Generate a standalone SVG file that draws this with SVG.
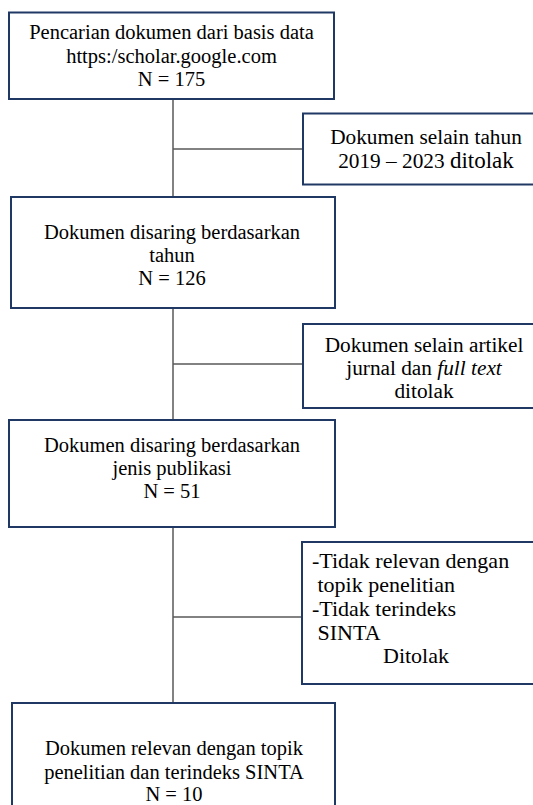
<svg xmlns="http://www.w3.org/2000/svg" width="533" height="805" viewBox="0 0 533 805">
<style>
.box{fill:#fff;stroke:#1f3864;stroke-width:2}
.ln{stroke:#595959;stroke-width:1.5;fill:none}
text{font-family:"Liberation Serif","Times New Roman",serif;font-size:20.5px;fill:#000}
.c{text-anchor:middle}
.s{font-size:21.3px}
.t{font-size:22px}
</style>
<rect width="533" height="805" fill="#fff"/>
<g id="connectors">
<line class="ln" x1="173" y1="99" x2="173" y2="197"/>
<line class="ln" x1="173" y1="149" x2="303" y2="149"/>
<line class="ln" x1="173" y1="308" x2="173" y2="420"/>
<line class="ln" x1="173" y1="364" x2="303" y2="364"/>
<line class="ln" x1="173" y1="527" x2="173" y2="703"/>
<line class="ln" x1="173" y1="617" x2="302" y2="617"/>
</g>
<g id="n1">
<rect class="box" x="9" y="12.5" width="325" height="86.5"/>
<text class="c" x="171.5" y="39">Pencarian dokumen dari basis data</text>
<text class="c" x="171.5" y="63">https:/scholar.google.com</text>
<text class="c" x="171.5" y="86">N = 175</text>
</g>
<g id="s1">
<rect class="box" x="303" y="113.5" width="240" height="71"/>
<text class="c s" x="426" y="144">Dokumen selain tahun</text>
<text class="c s" x="426" y="168">2019 – 2023 <tspan font-size="23">ditolak</tspan></text>
</g>
<g id="n2">
<rect class="box" x="11" y="197" width="324" height="111"/>
<text class="c" x="172" y="239">Dokumen disaring berdasarkan</text>
<text class="c" x="172" y="262">tahun</text>
<text class="c" x="172" y="285">N = 126</text>
</g>
<g id="s2">
<rect class="box" x="303" y="324" width="240" height="84"/>
<text class="c s" x="424" y="352">Dokumen selain artikel</text>
<text class="c s" x="424" y="375">jurnal dan <tspan font-style="italic">full text</tspan></text>
<text class="c s" x="424" y="398">ditolak</text>
</g>
<g id="n3">
<rect class="box" x="9" y="420" width="326" height="107"/>
<text class="c" x="172" y="452">Dokumen disaring berdasarkan</text>
<text class="c" x="172" y="475">jenis publikasi</text>
<text class="c" x="172" y="498">N = 51</text>
</g>
<g id="s3">
<rect class="box" x="302" y="542" width="240" height="142"/>
<text class="t" x="312" y="568">-Tidak relevan dengan</text>
<text class="t" x="312" y="592" xml:space="preserve"> topik penelitian</text>
<text class="t" x="312" y="616">-Tidak terindeks</text>
<text class="t" x="312" y="640" xml:space="preserve"> SINTA</text>
<text class="t" x="383" y="663">Ditolak</text>
</g>
<g id="n4">
<rect class="box" x="12" y="703" width="323" height="120"/>
<text class="c" x="174" y="755">Dokumen relevan dengan topik</text>
<text class="c" x="174" y="779">penelitian dan terindeks SINTA</text>
<text class="c" x="174" y="801">N = 10</text>
</g>
</svg>
